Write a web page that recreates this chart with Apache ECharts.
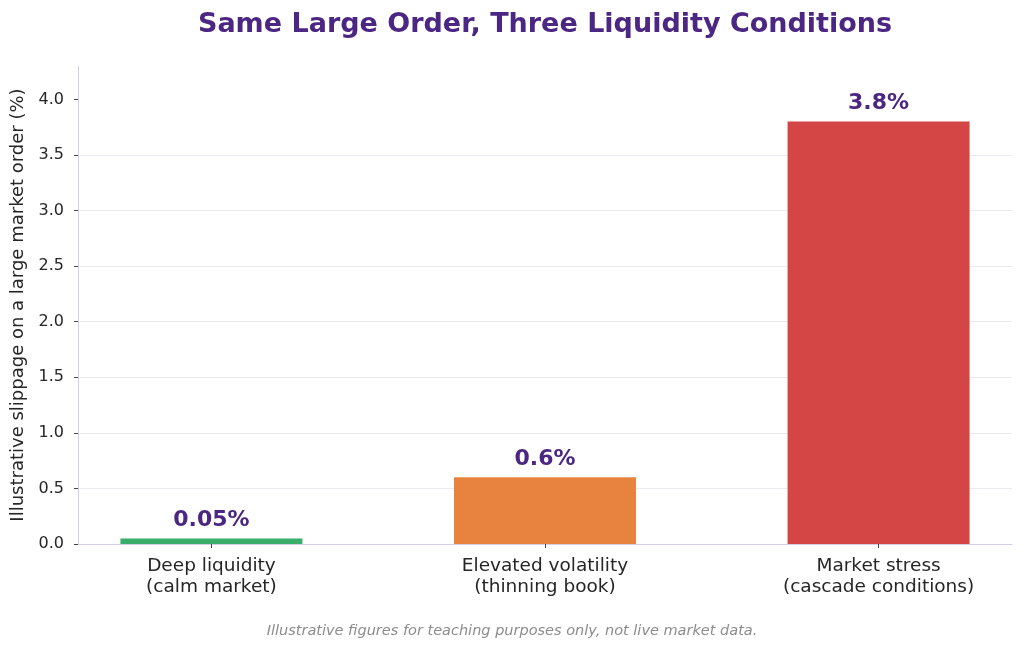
<!DOCTYPE html>
<html>
<head>
<meta charset="utf-8">
<script src="https://cdn.jsdelivr.net/npm/echarts@6/dist/echarts.min.js"></script>
<style>
  html, body { margin: 0; padding: 0; background: #fff; }
  #chart { width: 1024px; height: 651px; }
</style>
</head>
<body>
<div id="chart"></div>
<script>
// data
const categories = ['Deep liquidity\n(calm market)', 'Elevated volatility\n(thinning book)', 'Market stress\n(cascade conditions)'];
const slippage = [0.05, 0.6, 3.8];
const yTicks = [0, 0.5, 1.0, 1.5, 2.0, 2.5, 3.0, 3.5, 4.0];

const barColors = ['#3aae6a', '#e8833f', '#d44646'];
const purple = '#4b2683';
const font = 'DejaVu Sans';

const chartDom = document.getElementById('chart');
const myChart = echarts.init(chartDom, null, { renderer: 'canvas' });

const option = {
  backgroundColor: '#ffffff',
  animation: false,
  textStyle: { fontFamily: font },
  graphic: [
    {
      type: 'text',
      x: 545,
      y: 25,
      style: {
        text: 'Same Large Order, Three Liquidity Conditions',
        fill: purple,
        font: 'bold 27px "DejaVu Sans"',
        textAlign: 'center',
        textVerticalAlign: 'middle',
      },
    },
    {
      type: 'text',
      x: 512,
      y: 631,
      style: {
        text: 'Illustrative figures for teaching purposes only, not live market data.',
        fill: '#8c8c8c',
        font: 'italic 14.5px "DejaVu Sans"',
        textAlign: 'center',
        textVerticalAlign: 'middle',
      },
    },
  ],
  grid: {
    left: 78,
    right: 12,
    top: 66,
    bottom: 107,
    outerBoundsMode: 'none',
  },
  xAxis: {
    type: 'value',
    min: -0.4,
    max: 2.4,
    axisLine: { show: true, onZero: false, lineStyle: { color: '#d4cce8', width: 1 } },
    axisTick: {
      show: true,
      customValues: [0, 1, 2],
      length: 4,
      lineStyle: { color: '#444' },
    },
    axisLabel: {
      customValues: [0, 1, 2],
      formatter: (v) => categories[Math.round(v)],
      fontSize: 18.5,
      lineHeight: 21,
      color: '#262626',
      margin: 12,
    },
    splitLine: { show: false },
  },
  yAxis: {
    type: 'value',
    min: 0,
    max: 4.3,
    interval: 0.5,
    name: 'Illustrative slippage on a large market order (%)',
    nameLocation: 'middle',
    nameGap: 50,
    nameTextStyle: { fontSize: 18, color: '#262626' },
    axisLine: { show: true, onZero: false, lineStyle: { color: '#d4cce8', width: 1 } },
    axisTick: {
      show: true,
      customValues: yTicks,
      length: 4,
      lineStyle: { color: '#444' },
    },
    axisLabel: {
      customValues: yTicks,
      formatter: (v) => v.toFixed(1),
      fontSize: 16,
      color: '#262626',
      margin: 14,
    },
    splitLine: {
      show: true,
      showMinLine: false,
      showMaxLine: false,
      lineStyle: { color: '#ebeaf4', width: 1 },
    },
  },
  series: [
    {
      type: 'bar',
      barWidth: 182,
      data: slippage.map((v, i) => ({
        value: [i, v],
        itemStyle: { color: barColors[i] },
      })),
      label: {
        show: true,
        position: 'top',
        distance: 7,
        formatter: (p) => p.value[1] + '%',
        fontSize: 22,
        fontWeight: 'bold',
        color: purple,
      },
    },
  ],
};

myChart.setOption(option);
window.addEventListener('resize', () => {
  myChart?.resize();
});
</script>
</body>
</html>
